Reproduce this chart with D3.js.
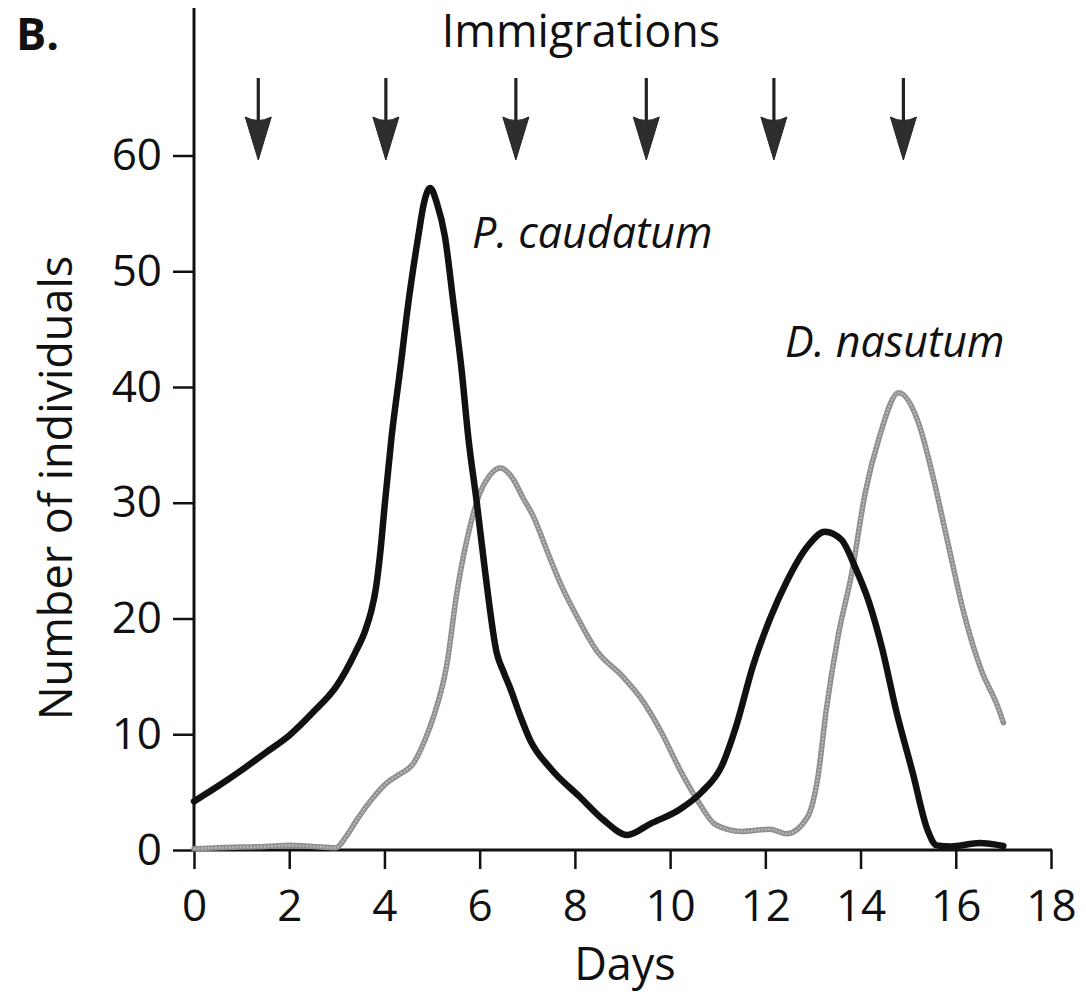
<!DOCTYPE html>
<html>
<head>
<meta charset="utf-8">
<script src="https://cdn.jsdelivr.net/npm/d3@7"></script>
<style>
  html, body { margin: 0; padding: 0; background: #fff; }
  svg { display: block; }
  text { font-family: "Open Sans", "Noto Sans", sans-serif; fill: #111; }
</style>
</head>
<body>
<svg id="chart" width="1086" height="1001"></svg>
<script>
// ---- data ----
const xTicks = [0, 2, 4, 6, 8, 10, 12, 14, 16, 18];
const yTicks = [0, 10, 20, 30, 40, 50, 60];
const immigrationDays = [1.35, 4.03, 6.76, 9.5, 12.18, 14.9];

const caudatumDays = [0, 0.5, 1.0, 1.5, 2.0, 2.5, 3.0, 3.38, 3.6, 3.72, 3.82, 3.92, 4.01, 4.15, 4.33, 4.5, 4.71, 4.83, 4.96, 5.1, 5.27, 5.45, 5.62, 5.76, 5.94, 6.11, 6.36, 6.5, 6.64, 6.85, 7.06, 7.5, 8.1, 8.6, 9.1, 9.6, 10.2, 10.66, 11.09, 11.38, 11.74, 12.1, 12.45, 12.88, 13.25, 13.6, 13.89, 14.17, 14.46, 14.75, 15.1, 15.4, 15.6, 15.9, 16.5, 17.0];
const caudatumCount = [4.2, 5.5, 6.9, 8.4, 9.9, 11.9, 14.2, 17.0, 19.0, 20.6, 22.6, 26.0, 30.0, 35.7, 41.5, 47.2, 53.0, 55.9, 57.2, 55.9, 53.0, 47.2, 41.5, 35.7, 30.0, 24.2, 17.0, 15.4, 14.0, 11.6, 9.5, 7.0, 4.6, 2.6, 1.3, 2.3, 3.5, 5.0, 7.3, 10.6, 15.9, 20.0, 23.2, 26.2, 27.5, 26.8, 24.4, 21.5, 17.3, 12.0, 6.6, 1.8, 0.4, 0.3, 0.6, 0.35];

const nasutumDays = [0, 0.5, 1.0, 1.5, 2.0, 2.5, 2.98, 3.2, 3.42, 3.7, 4.05, 4.3, 4.61, 4.85, 5.03, 5.31, 5.52, 5.8, 6.0, 6.2, 6.43, 6.71, 6.9, 7.13, 7.41, 7.7, 8.04, 8.46, 9.0, 9.37, 9.8, 10.23, 10.59, 10.95, 11.5, 12.1, 12.45, 12.88, 13.1, 13.28, 13.53, 13.81, 14.1, 14.39, 14.8, 15.25, 15.53, 15.82, 16.18, 16.53, 16.89, 17.0];
const nasutumCount = [0.1, 0.2, 0.25, 0.3, 0.4, 0.3, 0.2, 1.2, 2.6, 4.2, 5.8, 6.5, 7.5, 9.5, 11.5, 16.0, 22.2, 28.0, 30.8, 32.3, 33.0, 32.0, 30.5, 28.8, 25.9, 23.0, 20.2, 17.2, 15.0, 13.2, 10.3, 6.75, 4.2, 2.2, 1.6, 1.8, 1.4, 2.8, 6.2, 12.1, 18.5, 23.8, 30.9, 35.6, 39.5, 36.5, 32.1, 26.8, 20.3, 15.6, 12.3, 11.0];

// ---- layout ----
const svg = d3.select("#chart");
const x = d3.scaleLinear().domain([0, 18]).range([194, 1051]);
const y = d3.scaleLinear().domain([0, 60]).range([850, 155.5]);
const FS = 44;

// y axis
const yAxis = d3.axisLeft(y).tickValues(yTicks).tickSize(21).tickPadding(11).tickFormat(d3.format("d"));
const gy = svg.append("g").attr("transform", `translate(${x(0)},0)`).call(yAxis);
gy.select(".domain").remove();
gy.selectAll(".tick line").attr("stroke", "#111").attr("stroke-width", 2.5);
gy.selectAll(".tick text").attr("font-size", FS).attr("fill", "#111").attr("font-family", '"Open Sans", sans-serif');
svg.append("line").attr("x1", x(0)).attr("x2", x(0)).attr("y1", 8).attr("y2", y(0) + 1.5)
  .attr("stroke", "#111").attr("stroke-width", 3);

// x axis
const xAxis = d3.axisBottom(x).tickValues(xTicks).tickSize(19).tickPadding(21).tickFormat(d3.format("d"));
const gx = svg.append("g").attr("transform", `translate(0,${y(0)})`).call(xAxis);
gx.select(".domain").remove();
gx.selectAll(".tick line").attr("stroke", "#111").attr("stroke-width", 2.5);
gx.selectAll(".tick text").attr("font-size", FS).attr("fill", "#111").attr("font-family", '"Open Sans", sans-serif');
svg.append("line").attr("x1", x(0) - 1.5).attr("x2", x(18) + 1.2).attr("y1", y(0)).attr("y2", y(0))
  .attr("stroke", "#111").attr("stroke-width", 3);

// curves
const line = d3.line().x(d => x(d[0])).y(d => y(d[1])).curve(d3.curveMonotoneX);
const nasData = d3.zip(nasutumDays, nasutumCount);
const cauData = d3.zip(caudatumDays, caudatumCount);

svg.append("path").attr("d", line(nasData)).attr("fill", "none")
  .attr("stroke", "#8f8f8f").attr("stroke-width", 5.5).attr("stroke-linejoin", "round").attr("stroke-linecap", "round");
svg.append("path").attr("d", line(nasData)).attr("fill", "none")
  .attr("stroke", "#b8b8b8").attr("stroke-width", 2.2).attr("stroke-dasharray", "2,1.5");

svg.append("path").attr("d", line(cauData)).attr("fill", "none")
  .attr("stroke", "#111").attr("stroke-width", 6.5).attr("stroke-linejoin", "round").attr("stroke-linecap", "round");

// immigration arrows
const arrows = svg.append("g");
immigrationDays.forEach(d => {
  const ax = x(d);
  arrows.append("line").attr("x1", ax).attr("x2", ax).attr("y1", 78).attr("y2", 128)
    .attr("stroke", "#222").attr("stroke-width", 3.2);
  arrows.append("path")
    .attr("d", `M${ax},160 L${ax - 13},117 Q${ax},124 ${ax + 13},117 Z`)
    .attr("fill", "#2e2e2e").attr("stroke", "#222").attr("stroke-width", 1).attr("stroke-linejoin", "round");
});

// texts
svg.append("text").attr("x", 16).attr("y", 50).attr("font-size", 45).attr("font-weight", 700).text("B.");
svg.append("text").attr("x", 581).attr("y", 47).attr("font-size", 45).attr("text-anchor", "middle").text("Immigrations");
svg.append("text").attr("x", 625).attr("y", 980).attr("font-size", 45).attr("text-anchor", "middle").text("Days");
svg.append("text").attr("transform", "translate(72,488) rotate(-90)").attr("font-size", 45)
  .attr("text-anchor", "middle").text("Number of individuals");
svg.append("text").attr("x", 472).attr("y", 248).attr("font-size", 43).attr("font-style", "italic").text("P. caudatum");
svg.append("text").attr("x", 785).attr("y", 357).attr("font-size", 43).attr("font-style", "italic").text("D. nasutum");
</script>
</body>
</html>
